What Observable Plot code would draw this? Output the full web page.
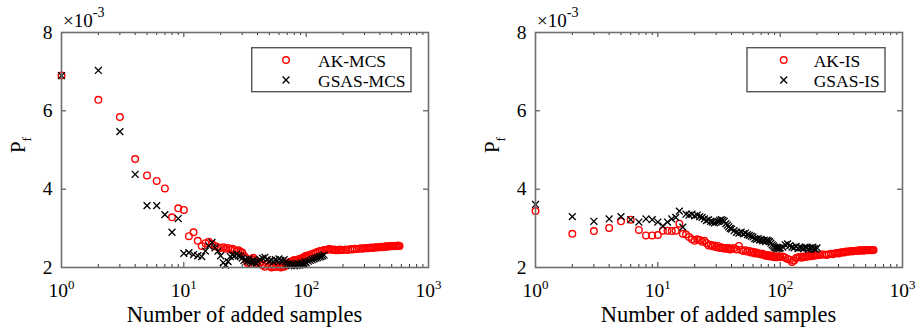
<!DOCTYPE html>
<html><head><meta charset="utf-8">
<script src="https://cdn.jsdelivr.net/npm/d3@7"></script>
<script src="https://cdn.jsdelivr.net/npm/@observablehq/plot@0.6"></script>
<style>
html,body{margin:0;padding:0;background:#fff;}
#wrap{display:flex;width:916px;height:331px;overflow:hidden;}
#wrap svg{display:block;}
#wrap svg text, #wrap svg tspan{font-family:'Liberation Serif','Times New Roman',serif !important;}
</style></head><body><div id="wrap"></div>
<script>
// Pf values are in units of 1e-3
const akMcsN = [1,2,3,4,5,6,7,8,9,10,11,12,13,14,15,16,17,18,19,20,21,22,23,24,25,26,27,28,29,30,31,32,33,34,35,36,37,38,39,40,
  42,44,46,48,50,52,54,56,58,60,62,64,66,68,70,72,74,76,78,80,82,84,86,88,90,92,94,96,98,100,
  105,110,115,120,125,130,135,140,145,150,155,160,165,170,175,180,185,190,195,200,
  210,220,230,240,250,260,270,280,290,300,310,320,330,340,350,360,370,380,390,400,410,420,430,440,450,460,470,480,490,500,510,520,530,540,550,560,570,580];
const akMcsPf = [6.90,6.28,5.84,4.77,4.35,4.21,4.02,3.28,3.51,3.47,
  2.80,2.90,2.68,2.55,2.62,2.66,2.60,2.55,2.52,2.50,
  2.52,2.48,2.50,2.46,2.48,2.45,2.42,2.44,2.40,2.38,
  2.30,2.25,2.12,2.10,2.18,2.22,2.25,2.20,2.15,2.10,
  2.12,2.06,2.02,2.08,2.04,2.00,2.03,2.01,2.06,2.02,
  2.00,2.04,2.02,2.05,2.08,2.12,2.15,2.13,2.17,2.19,
  2.16,2.20,2.18,2.22,2.21,2.24,2.23,2.26,2.28,2.30,
  2.31,2.34,2.36,2.38,2.40,2.42,2.43,2.45,2.44,2.46,2.47,2.46,2.45,2.46,2.44,2.45,2.44,2.46,2.45,2.45,
  2.46,2.45,2.47,2.46,2.48,2.47,2.48,2.49,2.48,2.49,2.50,2.49,2.50,2.51,2.50,2.51,2.52,2.51,2.52,2.52,
  2.53,2.52,2.53,2.53,2.54,2.53,2.54,2.54,2.55,2.54,2.55,2.55,2.54,2.55,2.55,2.56,2.55,2.55];

const gsasMcsN = [1,2,3,4,5,6,7,8,9,10,11,12,13,14,15,16,17,18,19,20,21,22,23,24,25,26,27,28,29,30,31,32,33,34,35,36,37,38,39,40,
  42,44,46,48,50,52,54,56,58,60,62,64,66,68,70,72,74,76,78,80,82,84,86,88,90,92,94,96,98,100,
  104,108,112,116,120,124,128,132,136,140];
const gsasMcsPf = [6.90,7.03,5.47,4.38,3.58,3.58,3.35,2.90,3.25,2.36,
  2.38,2.33,2.30,2.28,2.42,2.55,2.64,2.50,2.42,2.30,
  2.12,2.06,2.15,2.28,2.32,2.30,2.34,2.30,2.28,2.24,
  2.18,2.20,2.16,2.22,2.15,2.12,2.18,2.14,2.10,2.16,
  2.20,2.24,2.26,2.20,2.16,2.18,2.14,2.20,2.17,2.22,
  2.18,2.15,2.20,2.14,2.10,2.06,2.10,2.05,2.08,2.04,
  2.08,2.05,2.10,2.06,2.08,2.12,2.08,2.10,2.15,2.12,
  2.16,2.18,2.20,2.22,2.24,2.25,2.27,2.28,2.30,2.32];

const akIsN = akMcsN.slice();
const akIsPf = [3.44,2.86,2.93,3.01,3.18,3.22,2.96,2.82,2.82,2.83,
  2.94,2.94,2.93,2.94,3.12,2.86,2.84,2.78,2.72,2.68,
  2.72,2.70,2.66,2.68,2.62,2.56,2.58,2.54,2.56,2.52,
  2.55,2.50,2.52,2.50,2.48,2.50,2.48,2.50,2.46,2.48,
  2.50,2.46,2.55,2.45,2.42,2.44,2.40,2.42,2.38,2.40,
  2.36,2.38,2.35,2.36,2.33,2.35,2.32,2.30,2.32,2.29,
  2.31,2.28,2.30,2.27,2.29,2.26,2.28,2.26,2.29,2.27,
  2.28,2.25,2.22,2.20,2.14,2.18,2.24,2.26,2.27,2.25,2.28,2.27,2.29,2.28,2.30,2.29,2.31,2.30,2.32,2.31,
  2.32,2.33,2.33,2.32,2.34,2.35,2.34,2.36,2.37,2.36,2.38,2.39,2.38,2.40,2.41,2.40,2.41,2.42,2.41,2.42,
  2.43,2.42,2.43,2.44,2.43,2.44,2.44,2.43,2.44,2.45,2.44,2.45,2.44,2.45,2.45,2.44,2.45,2.45];

const gsasIsN = [1,2,3,4,5,6,7,8,9,10,11,12,13,14,15,16,17,18,19,20,21,22,23,24,25,26,27,28,29,30,31,32,33,34,35,36,37,38,39,40,
  42,44,46,48,50,52,54,56,58,60,62,64,66,68,70,72,74,76,78,80,82,84,86,88,90,92,94,96,98,100,
  105,110,115,120,125,130,135,140,145,150,155,160,165,170,175,180,185,190,195,200];
const gsasIsPf = [3.61,3.30,3.18,3.24,3.30,3.22,3.16,3.24,3.22,3.16,
  3.06,3.16,3.24,3.28,3.44,3.03,3.36,3.34,3.36,3.32,
  3.34,3.30,3.28,3.24,3.20,3.22,3.18,3.16,3.14,3.16,
  3.18,3.20,3.22,3.20,3.18,3.12,3.08,3.04,3.00,2.98,
  2.94,2.90,2.88,2.90,2.86,2.88,2.84,2.82,2.80,2.78,
  2.74,2.72,2.74,2.70,2.72,2.68,2.70,2.66,2.70,2.68,
  2.66,2.62,2.58,2.55,2.52,2.50,2.48,2.50,2.48,2.50,
  2.52,2.58,2.60,2.56,2.52,2.50,2.54,2.48,2.52,2.50,2.48,2.52,2.50,2.46,2.50,2.48,2.52,2.48,2.46,2.50];

const xTicks = [1, 10, 100, 1000];
const xTickExp = ["0", "1", "2", "3"];
const xMinor = [2,3,4,5,6,7,8,9,20,30,40,50,60,70,80,90,200,300,400,500,600,700,800,900];
const yTicks = [2, 4, 6, 8];
const xTitle = "Number of added samples";
const yTitle = ["P", "f"];
const scaleNote = ["\u00d710", "-3"];

const H = 331, MT = 32, MB = 64;
const RED = "#ff0000";
const SERIF = "'Liberation Serif','Times New Roman',serif";

function panel(cfg) {
  const W = 458;
  const pw = W - cfg.ml - cfg.mr, ph = H - MT - MB;
  const tickCol = "#333";
  const svgNode = Plot.plot({
    width: W, height: H,
    marginLeft: cfg.ml, marginRight: cfg.mr, marginTop: MT, marginBottom: MB,
    style: {fontFamily: SERIF, fontSize: "19.5px", color: "#000", background: "#fff", overflow: "visible"},
    x: {type: "log", domain: [1, 1000]},
    y: {domain: [2, 8]},
    marks: [
      Plot.axisX(xTicks, {tickSize: 0, tickPadding: 16, tickFormat: () => "10", label: null, fontSize: 19.5}),
      Plot.axisY(yTicks, {tickSize: 0, tickPadding: 9, tickFormat: d => String(d), label: null, fontSize: 19.5}),
      // inward ticks
      Plot.tickX(xTicks, {x: d => d, insetTop: ph - 5, stroke: tickCol, strokeWidth: 1}),
      Plot.tickX(xTicks, {x: d => d, insetBottom: ph - 5, stroke: tickCol, strokeWidth: 1}),
      Plot.tickX(xMinor, {x: d => d, insetTop: ph - 3, stroke: tickCol, strokeWidth: 1}),
      Plot.tickX(xMinor, {x: d => d, insetBottom: ph - 3, stroke: tickCol, strokeWidth: 1}),
      Plot.tickY(yTicks, {y: d => d, insetRight: pw - 5, stroke: tickCol, strokeWidth: 1}),
      Plot.tickY(yTicks, {y: d => d, insetLeft: pw - 5, stroke: tickCol, strokeWidth: 1}),
      Plot.dot(cfg.aN, {x: cfg.aN, y: cfg.aPf, r: 3.3, stroke: RED, strokeWidth: 1.4, fill: "none"}),
      Plot.dot(cfg.gN, {x: cfg.gN, y: cfg.gPf, r: 3.2, symbol: "times", stroke: "#000", strokeWidth: 1.3}),
      Plot.frame({stroke: "#6e6e6e", strokeWidth: 1.6})
    ]
  });
  const svg = d3.select(svgNode);
  svg.attr("font-family", SERIF).style("font-family", SERIF);
  // superscript exponents on x tick labels
  svg.selectAll('g[aria-label="x-axis tick label"] text').each(function(d, i) {
    const t = d3.select(this);
    t.text("10");
    t.append("tspan").attr("dy", "-8.5").attr("font-size", "13px").text(xTickExp[i]);
  });
  // scale note  x10^-3
  const note = svg.append("text").attr("x", cfg.ml + 2).attr("y", 26.5).attr("text-anchor", "start")
    .attr("font-size", "19px").attr("fill", "#000").text(scaleNote[0]);
  note.append("tspan").attr("dy", "-10").attr("font-size", "14px").text(scaleNote[1]);
  // x title
  svg.append("text").attr("x", cfg.ml + pw / 2).attr("y", 321.5).attr("text-anchor", "middle")
    .attr("font-size", "22.5px").attr("fill", "#000").text(xTitle);
  // y title
  const yt = svg.append("text").attr("transform", `translate(${cfg.ml - 36},145) rotate(-90)`)
    .attr("text-anchor", "middle").attr("font-size", "21px").attr("fill", "#000").text(yTitle[0]);
  yt.append("tspan").attr("dy", "6").attr("font-size", "13.5px").text(yTitle[1]);
  // legend
  const lg = svg.append("g");
  lg.append("rect").attr("x", cfg.lx).attr("y", 47.7).attr("width", cfg.lw).attr("height", 44)
    .attr("fill", "#fff").attr("stroke", "#555").attr("stroke-width", 1.4);
  const mx = cfg.lx + cfg.mOff, tx = cfg.lx + cfg.tOff;
  lg.append("circle").attr("cx", mx).attr("cy", 60).attr("r", 3.3).attr("fill", "none").attr("stroke", RED).attr("stroke-width", 1.4);
  lg.append("path").attr("transform", `translate(${mx},80)`).attr("d", d3.symbol(d3.symbolTimes, 3.2 * 3.2 * Math.PI)())
    .attr("fill", "none").attr("stroke", "#000").attr("stroke-width", 1.3);
  lg.append("text").attr("x", tx).attr("y", 66.5).attr("text-anchor", "start").attr("font-size", "17.5px").attr("fill", "#000").text(cfg.aName);
  lg.append("text").attr("x", tx).attr("y", 86.5).attr("text-anchor", "start").attr("font-size", "17.5px").attr("fill", "#000").text(cfg.gName);
  return svgNode;
}

const wrap = document.getElementById("wrap");
wrap.appendChild(panel({ml: 61, mr: 30, aN: akMcsN, aPf: akMcsPf, gN: gsasMcsN, gPf: gsasMcsPf,
  aName: "AK-MCS", gName: "GSAS-MCS", lx: 251.7, lw: 159.3, mOff: 34.3, tOff: 66.3}));
wrap.appendChild(panel({ml: 77, mr: 14, aN: akIsN, aPf: akIsPf, gN: gsasIsN, gPf: gsasIsPf,
  aName: "AK-IS", gName: "GSAS-IS", lx: 289, lw: 138, mOff: 36.7, tOff: 66.7}));
</script>
</body></html>
